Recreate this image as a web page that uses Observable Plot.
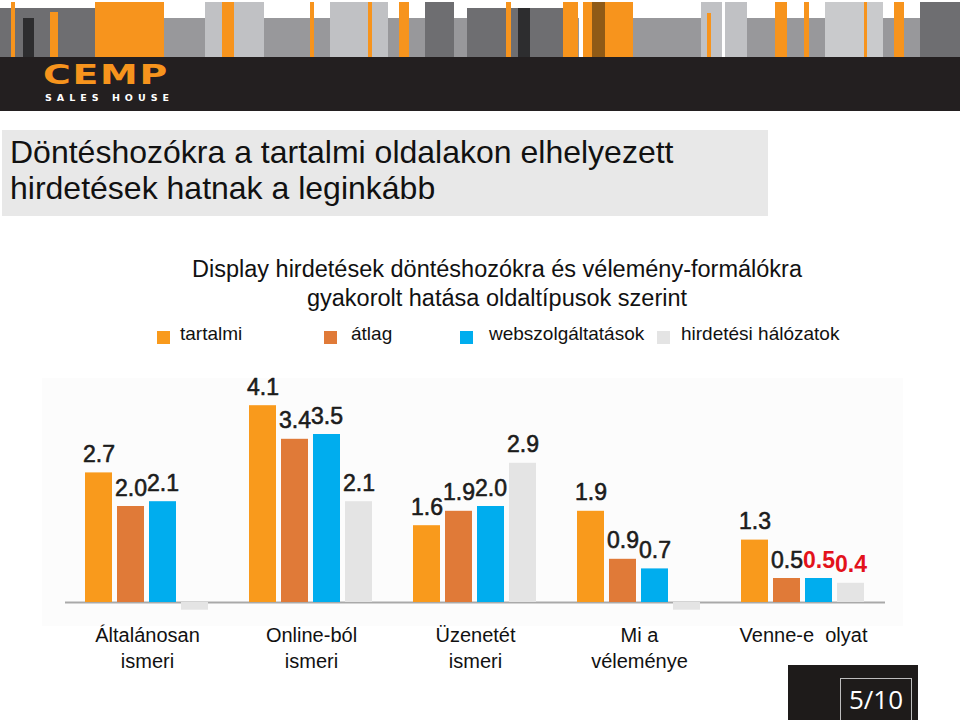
<!DOCTYPE html>
<html>
<head>
<meta charset="utf-8">
<script src="https://cdn.jsdelivr.net/npm/d3@7"></script>
<script src="https://cdn.jsdelivr.net/npm/@observablehq/plot@0.6"></script>
<style>
  html, body { margin: 0; padding: 0; }
  body { width: 960px; height: 720px; position: relative; overflow: hidden; background: #fff;
         font-family: "Liberation Sans", Arial, Helvetica, sans-serif; color: #111; }
  #header { position: absolute; left: 0; top: 0; width: 960px; height: 113px; }
  .stripe { position: absolute; }
  #band { position: absolute; left: 0; top: 57px; width: 960px; height: 54px; background: #231f20; }
  #logo { position: absolute; left: 43px; top: 64px; height: 20px; line-height: 20px; color: #f7941d; font-family: "DejaVu Sans", sans-serif;
          font-weight: bold; font-size: 22px; letter-spacing: 1px; transform: scale(1.72, 1.18); transform-origin: left top; }
  #logosub { position: absolute; left: 45px; top: 93px; line-height: 9px; height: 9px; color: #fff; font-family: "DejaVu Sans", sans-serif;
             font-weight: bold; font-size: 9.5px; letter-spacing: 5px; }
  #titlebox { position: absolute; left: 2px; top: 130px; width: 766px; height: 86px; background: #e8e8e8; }
  #title { position: absolute; left: 10px; top: 134px; font-size: 32px; line-height: 36px; color: #111; }
  #subtitle { position: absolute; left: 0; width: 994px; top: 255px; text-align: center; font-size: 23.5px; line-height: 29px; color: #111; }
  .leg { position: absolute; top: 331px; height: 13px; width: 13px; }
  .legt { position: absolute; top: 323px; font-size: 19px; color: #111; white-space: nowrap; }
  #chartbg { position: absolute; left: 42px; top: 378px; width: 861px; height: 248px; background: #fcfcfc; }
  #chart { position: absolute; left: 0; top: 360px; }
  #pagebox { position: absolute; left: 788px; top: 665px; width: 130px; height: 60px; background: #1e1b1a; }
  #pageinner { position: absolute; left: 840px; top: 678px; width: 72px; height: 50px; border: 1px solid #bdbdbd; box-sizing: border-box; }
  #pagenum { position: absolute; left: 840px; top: 681px; width: 72px; text-align: center; color: #fff;
             font-family: "Open Sans", "DejaVu Sans", sans-serif; font-size: 26px; }
</style>
</head>
<body>
<div id="header"></div>
<div id="titlebox"></div>
<div id="title">Döntéshozókra a tartalmi oldalakon elhelyezett<br>hirdetések hatnak a leginkább</div>
<div id="subtitle">Display hirdetések döntéshozókra és vélemény-formálókra<br>gyakorolt hatása oldaltípusok szerint</div>
<div id="legend"></div>
<div id="chartbg"></div>
<div id="chart"></div>
<div id="pagebox"></div>
<div id="pageinner"></div>
<div id="pagenum">5/10</div>
<script>
// ---- data ----
const categories = ["Általánosan\nismeri", "Online-ból\nismeri", "Üzenetét\nismeri", "Mi a\nvéleménye", "Venne-e  olyat"];
const series = ["tartalmi", "átlag", "webszolgáltatások", "hirdetési hálózatok"];
const tartalmi = [2.7, 4.1, 1.6, 1.9, 1.3];
const atlag = [2.0, 3.4, 1.9, 0.9, 0.5];
const webszolgaltatasok = [2.1, 3.5, 2.0, 0.7, 0.5];
const hirdetesiHalozatok = [-0.16, 2.1, 2.9, -0.16, 0.4];
const highlighted = [["Venne-e  olyat", "webszolgáltatások"], ["Venne-e  olyat", "hirdetési hálózatok"]];
const colors = ["#f99a1c", "#e07a38", "#00adee", "#e4e4e4"];
const pageLabel = "5/10";

// ---- header decoration ----
const header = document.getElementById("header");
const stripes = [
  [0, 960, 18, "#98989b"], [0, 95, 8, "#6e6e71"], [11, 15, 2, "#f7941d"], [23, 34, 18, "#2d2d2f"],
  [50, 58, 12, "#f7941d"], [95, 164, 2, "#f7941d"], [205, 264, 2, "#c0c1c4"], [222, 234, 2, "#f7941d"],
  [310, 314, 2, "#f7941d"], [330, 388, 2, "#c0c1c4"], [368, 372, 2, "#f7941d"], [399, 409, 2, "#f7941d"],
  [425, 454, 2, "#6e6e71"], [467, 563, 8, "#6e6e71"], [506, 511, 2, "#f7941d"], [518, 530, 8, "#2d2d2f"],
  [563, 578, 2, "#f7941d"], [579, 583, 2, "#ffffff"], [583, 633, 2, "#f7941d"], [592, 605, 2, "#8f5a16"],
  [701, 722, 2, "#c0c1c4"], [707, 711, 13, "#f7941d"], [722, 725, 2, "#ffffff"], [725, 747, 2, "#c0c1c4"],
  [775, 787, 2, "#f7941d"], [804, 809, 2, "#f7941d"], [825, 883, 2, "#c9cacc"], [864, 867, 2, "#f7941d"],
  [894, 904, 2, "#f7941d"], [920, 960, 2, "#6e6e71"]
];
for (const [a, b, t, c] of stripes) {
  const s = document.createElement("div");
  s.className = "stripe";
  s.style.cssText = `left:${a}px;width:${b - a}px;top:${t}px;height:${57 - t}px;background:${c};`;
  header.appendChild(s);
}
header.insertAdjacentHTML("beforeend", `<div id="band"></div><div id="logo">CEMP</div><div id="logosub">SALES HOUSE</div>`);

// ---- legend ----
const legend = document.getElementById("legend");
const legSquare = [157, 324, 460, 657];
const legText = [180, 351, 489, 681];
series.forEach((s, i) => {
  legend.insertAdjacentHTML("beforeend",
    `<div class="leg" style="left:${legSquare[i]}px;background:${colors[i]}"></div>` +
    `<div class="legt" style="left:${legText[i]}px">${s}</div>`);
});

// ---- chart ----
const valuesBySeries = [tartalmi, atlag, webszolgaltatasok, hirdetesiHalozatok];
const isHighlighted = (c, s) => highlighted.some(([hc, hs]) => hc === c && hs === s);
const rows = [];
categories.forEach((c, ci) => series.forEach((s, si) => {
  rows.push({category: c, series: s, value: valuesBySeries[si][ci], hl: isHighlighted(c, s)});
}));
const fmt = d => d.value.toFixed(1);

const chart = Plot.plot({
  width: 960,
  height: 320,
  marginTop: 2,
  marginBottom: 78,
  marginLeft: 63,
  marginRight: 74,
  style: {fontFamily: "'Liberation Sans', Arial, sans-serif", background: "transparent", overflow: "visible"},
  fx: {domain: categories, padding: 0, axis: null},
  x: {domain: series, paddingInner: 0.15, paddingOuter: 0.57, axis: null},
  y: {domain: [0, 5], axis: null},
  color: {domain: series, range: colors},
  marks: [
    Plot.ruleY([0], {stroke: "#a9a9a9", strokeWidth: 2}),
    Plot.barY(rows, {fx: "category", x: "series", y: "value", fill: "series"}),
    Plot.text(rows.filter(d => d.value > 0 && !d.hl), {
      fx: "category", x: "series", y: "value", text: fmt,
      lineAnchor: "bottom", dy: -11, fontSize: 23, fill: "#1c1c1c", stroke: "#1c1c1c", strokeWidth: 0.6
    }),
    Plot.text(rows.filter(d => d.value > 0 && d.hl), {
      fx: "category", x: "series", y: "value", text: fmt,
      lineAnchor: "bottom", dy: -11, fontSize: 23, fontWeight: "bold", fill: "#e3121b"
    }),
    Plot.text(categories, {
      fx: d => d, text: d => d, frameAnchor: "bottom", lineAnchor: "top",
      dy: 21, fontSize: 20, lineHeight: 1.3, fill: "#111"
    })
  ]
});
document.getElementById("chart").appendChild(chart);
document.getElementById("pagenum").textContent = pageLabel;
</script>
</body>
</html>
